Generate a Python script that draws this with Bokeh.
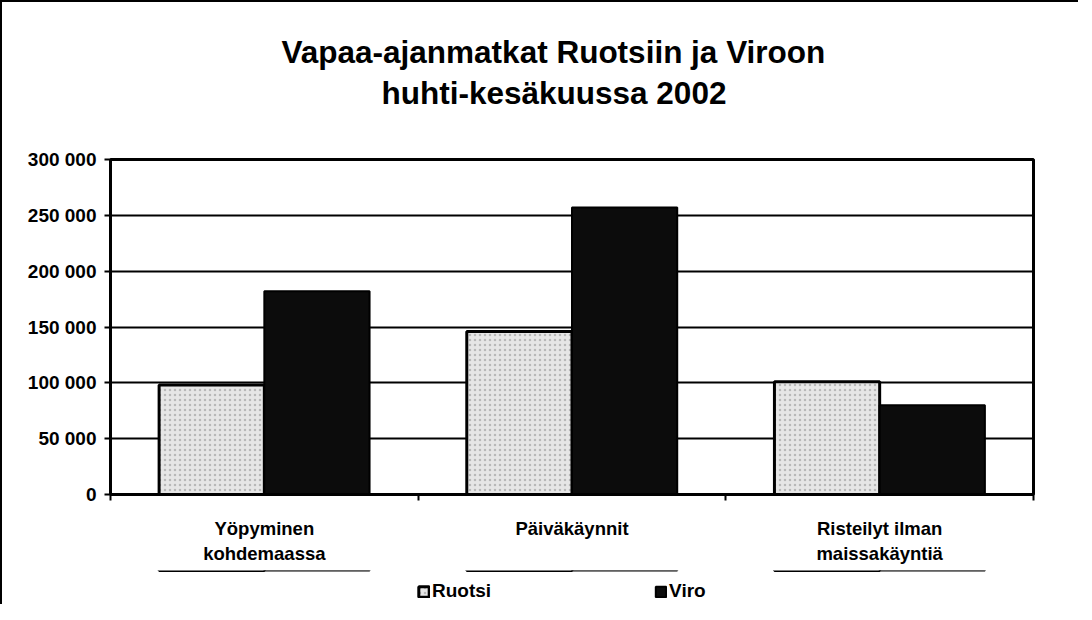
from bokeh.plotting import figure
from bokeh.layouts import column
from bokeh.models import (Range1d, LinearAxis, FixedTicker, Legend, LegendItem,
                          ColumnDataSource, Title)
from bokeh.transform import dodge
from bokeh.embed import file_html
from bokeh.resources import INLINE

categories = ["Yöpyminen kohdemaassa", "Päiväkäynnit", "Risteilyt ilman maissakäyntiä"]
category_labels = ["Yöpyminen\nkohdemaassa", "Päiväkäynnit", "Risteilyt ilman\nmaissakäyntiä"]
series_names = ["Ruotsi", "Viro"]
ruotsi = [98000, 146000, 101000]
viro = [182000, 257000, 80000]
y_ticks = [0, 50000, 100000, 150000, 200000, 250000, 300000]
y_tick_labels = ["0", "50 000", "100 000", "150 000", "200 000", "250 000", "300 000"]
title_lines = ["Vapaa-ajanmatkat Ruotsiin ja Viroon", "huhti-kesäkuussa 2002"]

FONT = "Liberation Sans"
n = len(categories)
centers = [i + 0.5 for i in range(n)]

RUOTSI_STYLE = dict(fill_color="#e6e6e6", line_color="black", line_width=3,
                    hatch_pattern="dot", hatch_color="#8a8a8a", hatch_scale=5, hatch_alpha=0.5)
VIRO_STYLE = dict(fill_color="#0c0c0c", line_color="black", line_width=2)

source = ColumnDataSource(dict(cat=categories, x=centers, ruotsi=ruotsi, viro=viro))

p = figure(x_range=Range1d(0, n), y_range=Range1d(y_ticks[0], y_ticks[-1]),
           width=1076, height=568, output_backend="svg", toolbar_location=None,
           x_axis_location=None, title=None,
           min_border_left=108, min_border_right=45, min_border_top=157, min_border_bottom=76)
p.background_fill_color = "white"
p.border_fill_color = "white"
p.outline_line_color = "black"
p.outline_line_width = 3

bw = 0.342
r1 = p.vbar(x=dodge("x", -bw / 2), top="ruotsi", width=bw, source=source, **RUOTSI_STYLE)
r2 = p.vbar(x=dodge("x", bw / 2), top="viro", width=bw, source=source, **VIRO_STYLE)

# y axis
ya = p.yaxis[0]
ya.ticker = FixedTicker(ticks=y_ticks)
ya.major_label_overrides = {t: l for t, l in zip(y_ticks, y_tick_labels)}
ya.major_label_text_font = FONT
ya.major_label_text_font_style = "bold"
ya.major_label_text_font_size = "19px"
ya.major_label_text_color = "black"
ya.major_tick_out = 6
ya.major_tick_in = 0
ya.minor_tick_line_color = None
ya.axis_line_width = 3
ya.major_tick_line_width = 2
ya.major_label_standoff = 8

p.ygrid.ticker = FixedTicker(ticks=y_ticks)
p.ygrid.grid_line_color = "black"
p.ygrid.grid_line_width = 2
p.xgrid.grid_line_color = None

# x axis: ticks at category boundaries, labels at category centres
bounds = list(range(n + 1))
tick_axis = LinearAxis(ticker=FixedTicker(ticks=bounds),
                       major_label_text_font_size="0px", major_label_standoff=0,
                       major_tick_out=6, major_tick_in=0, major_tick_line_width=2,
                       minor_tick_line_color=None, axis_line_width=3)
tick_axis.major_label_overrides = {b: "" for b in bounds}
label_axis = LinearAxis(ticker=FixedTicker(ticks=centers),
                        major_tick_line_color=None, minor_tick_line_color=None, axis_line_color=None,
                        major_label_text_font=FONT, major_label_text_font_style="bold",
                        major_label_text_font_size="18.5px", major_label_text_color="black",
                        major_label_standoff=11)
label_axis.major_label_overrides = {c: l for c, l in zip(centers, category_labels)}
p.add_layout(tick_axis, "below")
p.add_layout(label_axis, "below")

# title: spacer nearest the plot, then line 2, then line 1
spacer = Title(text=" ", text_font_size="2px", standoff=45)
t2 = Title(text=title_lines[1], align="left", text_font=FONT, text_font_style="bold",
           text_font_size="31.5px", text_color="black", offset=271, standoff=0)
t1 = Title(text=title_lines[0], align="left", text_font=FONT, text_font_style="bold",
           text_font_size="31.5px", text_color="black", offset=171, standoff=6)
p.add_layout(spacer, "above")
p.add_layout(t2, "above")
p.add_layout(t1, "above")

# legend strip below the chart (its frame is aligned with the chart's frame)
pl = figure(x_range=Range1d(0, n), y_range=Range1d(-2, -1), width=1076, height=34,
            output_backend="svg", toolbar_location=None, x_axis_location=None,
            y_axis_location=None, min_border=0, title=None)
pl.outline_line_color = None
pl.background_fill_color = "white"
pl.border_fill_color = "white"
pl.xgrid.grid_line_color = None
pl.ygrid.grid_line_color = None
# same series drawn out of view here, only to supply the legend swatches
l1 = pl.vbar(x=dodge("x", -bw / 2), top="ruotsi", width=bw, source=source, **RUOTSI_STYLE)
l2 = pl.vbar(x=dodge("x", bw / 2), top="viro", width=bw, source=source, **VIRO_STYLE)
legend = Legend(items=[LegendItem(label=series_names[0], renderers=[l1]),
                       LegendItem(label=series_names[1], renderers=[l2])],
                orientation="horizontal", location=(306, 1), spacing=163,
                glyph_width=13, glyph_height=13, label_standoff=2, label_height=18,
                label_text_font=FONT, label_text_font_style="bold", label_text_font_size="19px",
                label_text_color="black",
                border_line_alpha=0, background_fill_alpha=0, padding=1, margin=0)
pl.add_layout(legend, "center")

layout = column(p, pl, spacing=0)
layout.styles = {"border-top": "2px solid black", "border-left": "2px solid black"}

open("out.html", "w").write(file_html(layout, INLINE))
